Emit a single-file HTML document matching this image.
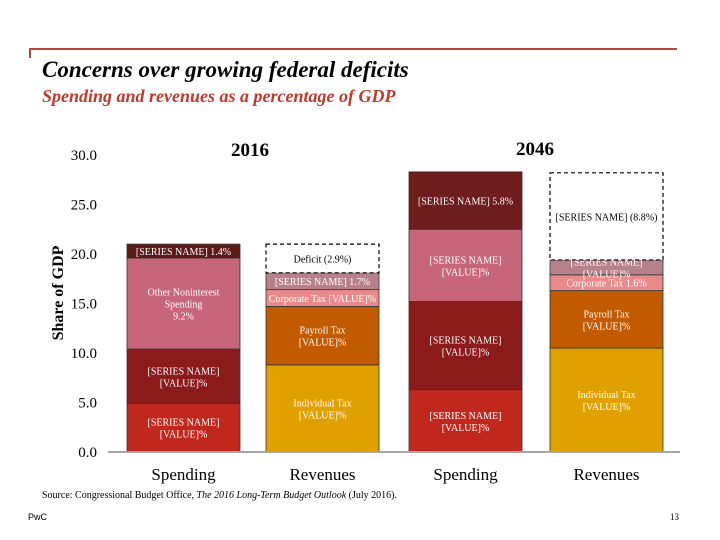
<!DOCTYPE html>
<html><head><meta charset="utf-8"><style>
body{margin:0;background:#fff;}
svg{display:block;font-family:"Liberation Serif",serif;}
</style></head><body>
<svg id="chart" width="720" height="540" viewBox="0 0 720 540">
<path d="M30,58 L30,49 L677,49" fill="none" stroke="#b5483d" stroke-width="2"/>
<text x="42" y="77" font-size="23" font-style="italic" font-weight="bold" fill="#000">Concerns over growing federal deficits</text>
<text x="42" y="102" font-size="18" font-style="italic" font-weight="bold" fill="#c0392b">Spending and revenues as a percentage of GDP</text>
<text transform="translate(63,293) rotate(-90)" text-anchor="middle" font-size="16" font-weight="bold" fill="#000">Share of GDP</text>
<text x="250" y="156" text-anchor="middle" font-size="19" font-weight="bold">2016</text>
<text x="535" y="155" text-anchor="middle" font-size="19" font-weight="bold">2046</text>
<g id="ticks"></g><g id="bars"></g>
<line x1="108" y1="452" x2="680" y2="452" stroke="#a6a6a6" stroke-width="2"/>
<text x="42" y="498" font-size="10">Source: Congressional Budget Office, <tspan font-style="italic">The 2016 Long-Term Budget Outlook</tspan> (July 2016).</text>
<text x="28" y="520" font-size="9" font-family="Liberation Sans, sans-serif">PwC</text>
<text x="679" y="520" text-anchor="end" font-size="9">13</text>
</svg>
<script>
const yTicks=[0,5,10,15,20,25,30];
const categories=["Spending","Revenues","Spending","Revenues"];
const spending2016=[4.9,5.5,9.2,1.4];
const revenues2016=[8.8,5.9,1.7,1.7,2.9];
const spending2046=[6.3,8.9,7.3,5.8];
const revenues2046=[10.5,5.8,1.6,1.5,8.8];
const stacks=[spending2016,revenues2016,spending2046,revenues2046];
const labels=[["[SERIES NAME]|[VALUE]%","[SERIES NAME]|[VALUE]%","Other Noninterest|Spending|9.2%","[SERIES NAME]  1.4%"],
["Individual Tax|[VALUE]%","Payroll Tax|[VALUE]%","Corporate Tax  [VALUE]%","[SERIES NAME]  1.7%","Deficit  (2.9%)"],
["[SERIES NAME]|[VALUE]%","[SERIES NAME]|[VALUE]%","[SERIES NAME]|[VALUE]%","[SERIES NAME]  5.8%"],
["Individual Tax|[VALUE]%","Payroll Tax|[VALUE]%","Corporate Tax  1.6%","[SERIES NAME]|[VALUE]%","[SERIES NAME] (8.8%)"]];
const spColors=["#c0281e","#8b1a1a","#c7657a","#5c1a16"];
const spColors46=["#c0281e","#8b1a1a","#c7657a","#6e1c1c"];
const rvColors=["#e0a100","#c25a00","#e88a8a","#b8808a","#fff"];
const xL=[127,266,409,550], bw=113;
const y=v=>452-v*9.9;
const NS="http://www.w3.org/2000/svg";
const tg=document.getElementById('ticks'), bg=document.getElementById('bars');
yTicks.forEach(t=>{const e=document.createElementNS(NS,'text');e.setAttribute('x',97);e.setAttribute('y',y(t)+5);e.setAttribute('text-anchor','end');e.setAttribute('font-size','15');e.textContent=t.toFixed(1);


tg.appendChild(e);});
stacks.forEach((vals,i)=>{
 let cum=0;
 const cols=i===0?spColors:i===2?spColors46:rvColors;
 vals.forEach((v,j)=>{
  const y0=y(cum),y1=y(cum+v);cum+=v;
  const deficit=(i%2===1&&j===4);
  const r=document.createElementNS(NS,'rect');
  r.setAttribute('x',xL[i]);r.setAttribute('y',y1);r.setAttribute('width',bw);r.setAttribute('height',y0-y1);
  r.setAttribute('fill',cols[j]);
  r.setAttribute('stroke',deficit?'#000':'#333');r.setAttribute('stroke-width',deficit?1.2:0.8);
  if(deficit)r.setAttribute('stroke-dasharray','4,3');
  
  
  bg.appendChild(r);
  const lines=labels[i][j].split('|');
  const cy=(y0+y1)/2, lh=12;
  lines.forEach((ln,k)=>{
   const t=document.createElementNS(NS,'text');
   t.setAttribute('x',xL[i]+bw/2);t.setAttribute('y',cy+4+(k-(lines.length-1)/2)*lh);
   t.setAttribute('text-anchor','middle');t.setAttribute('font-size','10');
   t.setAttribute('fill',deficit?'#000':'#fff');
   t.textContent=ln;
   
   
   bg.appendChild(t);
  });
 });
 const c=document.createElementNS(NS,'text');
 c.setAttribute('x',xL[i]+bw/2);c.setAttribute('y',480);c.setAttribute('text-anchor','middle');c.setAttribute('font-size','17');
 c.textContent=categories[i];
 
 
 bg.appendChild(c);
});
</script>
</body></html>
